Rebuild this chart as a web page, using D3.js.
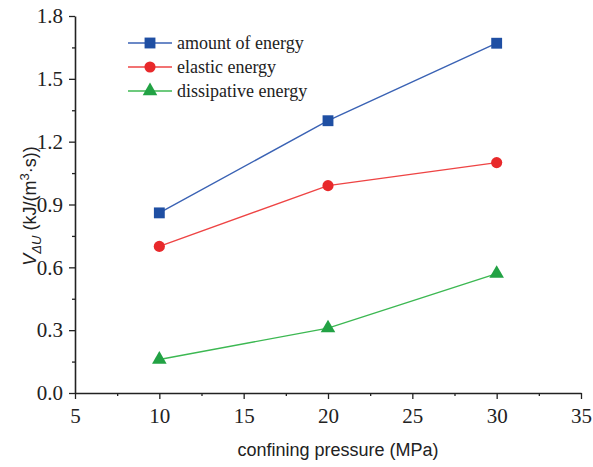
<!DOCTYPE html>
<html>
<head>
<meta charset="utf-8">
<script src="https://cdn.jsdelivr.net/npm/d3@7"></script>
<style>
  html, body { margin: 0; padding: 0; background: #fff; }
  svg { display: block; }
</style>
</head>
<body>
<svg id="chart" width="593" height="467"></svg>
<script>
// Confining pressure (MPa) and energy rates for each series
const pressure = [10, 20, 30];
const amountEnergy = [0.86, 1.30, 1.67];
const elasticEnergy = [0.70, 0.99, 1.10];
const dissipativeEnergy = [0.16, 0.31, 0.57];

const xTicks = [5, 10, 15, 20, 25, 30, 35];
const yTicks = [0.0, 0.3, 0.6, 0.9, 1.2, 1.5, 1.8];

const seriesNames = ["amount of energy", "elastic energy", "dissipative energy"];
const seriesValues = [amountEnergy, elasticEnergy, dissipativeEnergy];
const seriesLine = ["#3a62b4", "#ee4444", "#3cb852"];
const seriesFill = ["#1f4fa3", "#e8292b", "#22a244"];
const seriesSymbol = [d3.symbolSquare, d3.symbolCircle, d3.symbolTriangle];
const symbolSize = [118, 98, 92];

const SERIF = "Liberation Serif";
const SANS = "Liberation Sans";

const svg = d3.select("#chart");
const plotLeft = 75, plotRight = 581, plotTop = 16, plotBottom = 393;

const x = d3.scaleLinear().domain([5, 35]).range([plotLeft, plotRight]);
const y = d3.scaleLinear().domain([0, 1.8]).range([plotBottom, plotTop]);

// Bottom axis with minor ticks
const xMinor = d3.range(7.5, 35, 5);
svg.append("g")
  .attr("transform", `translate(0,${plotBottom})`)
  .call(d3.axisBottom(x).tickValues(xMinor).tickSize(3).tickFormat(""))
  .call(g => g.select(".domain").remove())
  .call(g => g.selectAll("line").attr("stroke", "#222").attr("stroke-width", 1.3));

const xAxis = svg.append("g")
  .attr("transform", `translate(0,${plotBottom})`)
  .call(d3.axisBottom(x).tickValues(xTicks).tickSize(6).tickSizeOuter(0).tickPadding(9).tickFormat(d3.format("d")));
xAxis.attr("font-family", SERIF).attr("font-size", 21);
xAxis.select(".domain").attr("stroke", "#222").attr("stroke-width", 1.6);
xAxis.selectAll("line").attr("stroke", "#222").attr("stroke-width", 1.3);
xAxis.selectAll("text").attr("fill", "#222");

// Left axis with minor ticks
const yMinor = d3.range(0.15, 1.8, 0.3);
svg.append("g")
  .attr("transform", `translate(${plotLeft},0)`)
  .call(d3.axisLeft(y).tickValues(yMinor).tickSize(3).tickFormat(""))
  .call(g => g.select(".domain").remove())
  .call(g => g.selectAll("line").attr("stroke", "#222").attr("stroke-width", 1.3));

const yAxis = svg.append("g")
  .attr("transform", `translate(${plotLeft},0)`)
  .call(d3.axisLeft(y).tickValues(yTicks).tickSize(6).tickSizeOuter(0).tickPadding(6).tickFormat(d3.format(".1f")));
yAxis.attr("font-family", SERIF).attr("font-size", 21);
yAxis.select(".domain").attr("stroke", "#222").attr("stroke-width", 1.6);
yAxis.selectAll("line").attr("stroke", "#222").attr("stroke-width", 1.3);
yAxis.selectAll("text").attr("fill", "#222");

// Axis titles
svg.append("text")
  .attr("x", 338).attr("y", 456)
  .attr("text-anchor", "middle")
  .attr("font-family", SANS).attr("font-size", 18).attr("fill", "#222")
  .text("confining pressure (MPa)");

const yTitle = svg.append("text")
  .attr("transform", "translate(36,206) rotate(-90)")
  .attr("text-anchor", "middle")
  .attr("font-family", SANS).attr("font-size", 18).attr("fill", "#222");
yTitle.append("tspan").attr("font-style", "italic").text("V");
yTitle.append("tspan").attr("font-style", "italic").attr("font-size", 13).attr("dy", 5).text("ΔU");
yTitle.append("tspan").attr("dy", -5).text(" (kJ/(m");
yTitle.append("tspan").attr("font-size", 13).attr("dy", -7).text("3");
yTitle.append("tspan").attr("dy", 7).text("·s))");

// Series lines and markers
const line = d3.line().x((d, i) => x(pressure[i])).y(d => y(d));
seriesValues.forEach((vals, s) => {
  svg.append("path")
    .datum(vals)
    .attr("d", line)
    .attr("fill", "none")
    .attr("stroke", seriesLine[s])
    .attr("stroke-width", 1.4);
  svg.selectAll(null)
    .data(vals)
    .join("path")
    .attr("transform", (d, i) => `translate(${x(pressure[i])},${y(d)})`)
    .attr("d", d3.symbol().type(seriesSymbol[s]).size(symbolSize[s]))
    .attr("fill", seriesFill[s]);
});

// Legend
const legend = svg.append("g");
seriesNames.forEach((name, s) => {
  const ly = 43 + s * 24;
  legend.append("line")
    .attr("x1", 128).attr("x2", 172).attr("y1", ly).attr("y2", ly)
    .attr("stroke", seriesLine[s]).attr("stroke-width", 1.4);
  legend.append("path")
    .attr("transform", `translate(150,${ly})`)
    .attr("d", d3.symbol().type(seriesSymbol[s]).size(symbolSize[s]))
    .attr("fill", seriesFill[s]);
  legend.append("text")
    .attr("x", 177).attr("y", ly + 6)
    .attr("font-family", SERIF).attr("font-size", 18).attr("fill", "#222")
    .text(name);
});
</script>
</body>
</html>
